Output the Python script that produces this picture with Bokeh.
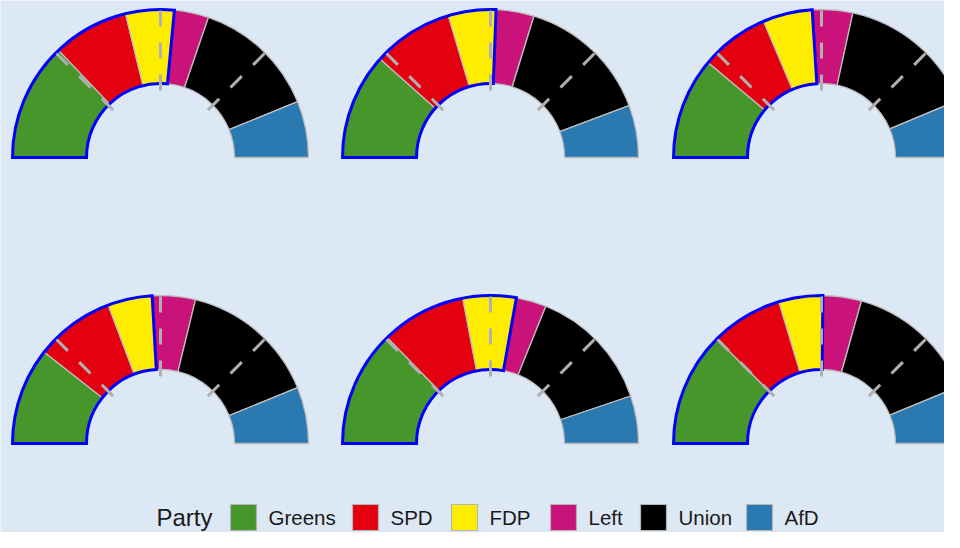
import numpy as np
from bokeh.plotting import figure
from bokeh.models import Range1d, ColumnDataSource
from bokeh.embed import file_html
from bokeh.resources import INLINE
from bokeh.core.properties import value

# ---------------- data ----------------
parties = ["Greens", "SPD", "FDP", "Left", "Union", "AfD"]
party_colors = ["#46962b", "#e3000f", "#ffed00", "#c9127a", "#000000", "#2a79b1"]

# seat shares (%) read from the six half-donuts (left-to-right, top-to-bottom)
scenario_1 = [25.8, 16.6, 10.6, 7.5, 27.2, 12.3]
scenario_2 = [23.2, 17.6, 10.4, 8.3, 29.1, 11.4]
scenario_3 = [22.2, 15.0, 10.8, 8.8, 30.6, 12.6]
scenario_4 = [21.2, 17.3, 9.7, 9.4, 30.1, 12.3]
scenario_5 = [25.4, 18.6, 11.6, 6.6, 27.4, 10.4]
scenario_6 = [25.0, 15.7, 9.6, 8.4, 28.8, 12.5]
scenarios = [scenario_1, scenario_2, scenario_3, scenario_4, scenario_5, scenario_6]

coalition = ["Greens", "SPD", "FDP"]
guide_shares = [0.25, 0.5, 0.75]
legend_title = "Party"

# ---------------- layout / style ----------------
W, H = 944, 532
BG = "#dde8f5"
col_x = [160, 490, 821]
row_y = [H - 157, H - 443]
R_OUT, R_IN = 148, 74
G_IN, G_OUT = 67, 149

p = figure(width=W, height=H, output_backend="svg", toolbar_location=None,
           x_range=Range1d(0, W), y_range=Range1d(0, H),
           x_axis_type=None, y_axis_type=None, min_border=0)
p.background_fill_color = BG
p.border_fill_color = BG
p.outline_line_color = None
p.grid.visible = False

for i, vals in enumerate(scenarios):
    cx = col_x[i % 3]
    cy = row_y[i // 3]
    v = np.array(vals, dtype=float)
    frac = v / v.sum()
    cum = np.concatenate([[0.0], np.cumsum(frac)])
    start = 180.0 - cum[1:] * 180.0
    end = 180.0 - cum[:-1] * 180.0
    src = ColumnDataSource(dict(x=[cx] * len(parties), y=[cy] * len(parties),
                                start=start, end=end, color=party_colors,
                                party=parties))
    p.annular_wedge(x="x", y="y", inner_radius=R_IN, outer_radius=R_OUT,
                    start_angle="start", end_angle="end",
                    start_angle_units="deg", end_angle_units="deg",
                    fill_color="color", line_color="#bdbdbd", line_width=1.3,
                    source=src)
    # coalition outline
    cshare = sum(frac[parties.index(c)] for c in coalition)
    p.annular_wedge(x=[cx], y=[cy], inner_radius=R_IN, outer_radius=R_OUT,
                    start_angle=[180.0 - cshare * 180.0], end_angle=[180.0],
                    start_angle_units="deg", end_angle_units="deg",
                    fill_alpha=0, line_color="#0000ff", line_width=3,
                    line_join="miter")
    # dashed guide lines
    ang = np.deg2rad(180.0 - np.array(guide_shares) * 180.0)
    p.segment(x0=cx + G_IN * np.cos(ang), y0=cy + G_IN * np.sin(ang),
              x1=cx + G_OUT * np.cos(ang), y1=cy + G_OUT * np.sin(ang),
              line_color="#b0b0b0", line_width=3, line_dash="16 16",
              line_cap="butt")

# ---------------- legend ----------------
leg_y = H - 517
key_left = [230, 352, 451, 550, 640, 746]
KEY = 26
p.text(x=[156], y=[leg_y], text=[legend_title], text_font=value("Liberation Sans"),
       text_font_size="24px", text_baseline="middle", text_align="left",
       text_color="#1a1a1a")
p.rect(x=[k + KEY / 2 for k in key_left], y=[leg_y] * len(parties),
       width=KEY, height=KEY, fill_color=party_colors, line_color="#b5b5b5",
       line_width=1.2)
p.text(x=[k + 38 for k in key_left], y=[leg_y] * len(parties), text=parties,
       text_font=value("Liberation Sans"), text_font_size="20.5px",
       text_baseline="middle", text_align="left", text_color="#1a1a1a")

open("out.html", "w").write(file_html(p, INLINE))
